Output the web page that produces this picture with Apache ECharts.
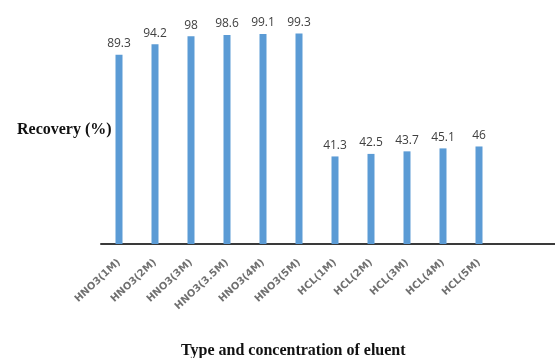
<!DOCTYPE html>
<html>
<head>
<meta charset="utf-8">
<script src="https://cdn.jsdelivr.net/npm/echarts@6/dist/echarts.min.js"></script>
<style>
  html, body { margin: 0; padding: 0; background: #fff; }
  #chart { width: 555px; height: 358px; }
</style>
</head>
<body>
<div id="chart"></div>
<script>
// Eluent type / concentration and recovery (%)
const categories = ['HNO3(1M)', 'HNO3(2M)', 'HNO3(3M)', 'HNO3(3.5M)', 'HNO3(4M)', 'HNO3(5M)',
                    'HCL(1M)', 'HCL(2M)', 'HCL(3M)', 'HCL(4M)', 'HCL(5M)'];
const recovery = [89.3, 94.2, 98, 98.6, 99.1, 99.3, 41.3, 42.5, 43.7, 45.1, 46];

const yTitle = 'Recovery (%)';
const xTitle = 'Type and concentration of eluent';

const chart = echarts.init(document.getElementById('chart'), null, { renderer: 'canvas' });

const gridLeft = 101, gridTop = 32, gridWidth = 396, gridHeight = 212;

chart.setOption({
  animation: false,
  backgroundColor: '#ffffff',
  title: [
    {
      text: yTitle, left: 12, top: 117,
      textStyle: { fontFamily: 'Liberation Serif', fontWeight: 'bold', fontSize: 16, color: '#111' }
    },
    {
      text: xTitle, left: 176, top: 338,
      textStyle: { fontFamily: 'Liberation Serif', fontWeight: 'bold', fontSize: 16, color: '#111' }
    }
  ],
  grid: { left: gridLeft, top: gridTop, width: gridWidth, height: gridHeight, containLabel: false },
  xAxis: {
    type: 'category',
    data: categories,
    axisLine: { lineStyle: { color: '#3a3a3a', width: 2 } },
    axisTick: { show: false },
    axisLabel: {
      interval: 0, rotate: 43, margin: 17,
      fontFamily: 'DejaVu Sans', fontWeight: 'bold', fontSize: 10, color: '#707070'
    }
  },
  yAxis: {
    type: 'value', min: 0, max: 100,
    show: false,
    splitLine: { show: false }
  },
  series: [{
    type: 'bar',
    data: recovery,
    barWidth: 7,
    itemStyle: { color: '#5b9bd5' },
    label: {
      show: true, position: 'top', distance: 5,
      fontFamily: 'Open Sans', fontSize: 12, color: '#404040'
    }
  }],
  graphic: [{
    type: 'line',
    shape: { x1: gridLeft + gridWidth, y1: gridTop + gridHeight, x2: 555, y2: gridTop + gridHeight },
    style: { stroke: '#3a3a3a', lineWidth: 2 }
  }]
});
</script>
</body>
</html>
